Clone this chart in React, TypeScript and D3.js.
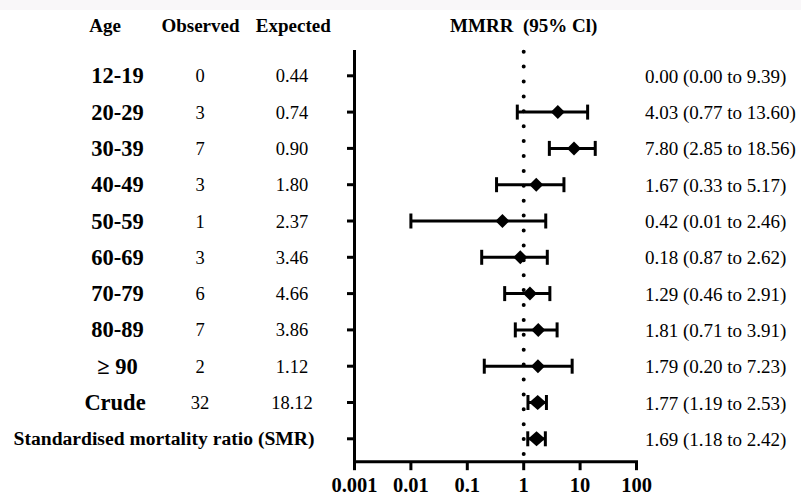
import React from 'react';
import * as d3 from 'd3';

const ageGroups = ['12-19', '20-29', '30-39', '40-49', '50-59', '60-69', '70-79', '80-89', '\u2265 90', 'Crude', 'Standardised mortality ratio (SMR)'];
const observed = ['0', '3', '7', '3', '1', '3', '6', '7', '2', '32', ''];
const expected = ['0.44', '0.74', '0.90', '1.80', '2.37', '3.46', '4.66', '3.86', '1.12', '18.12', ''];
const estimate: (number | null)[] = [null, 4.03, 7.8, 1.67, 0.42, 0.87, 1.29, 1.81, 1.79, 1.77, 1.69];
const lower: (number | null)[] = [null, 0.77, 2.85, 0.33, 0.01, 0.18, 0.46, 0.71, 0.2, 1.19, 1.18];
const upper: (number | null)[] = [null, 13.6, 18.56, 5.17, 2.46, 2.62, 2.91, 3.91, 7.23, 2.53, 2.42];
const ciLabels = [
  '0.00 (0.00 to 9.39)',
  '4.03 (0.77 to 13.60)',
  '7.80 (2.85 to 18.56)',
  '1.67 (0.33 to 5.17)',
  '0.42 (0.01 to 2.46)',
  '0.18 (0.87 to 2.62)',
  '1.29 (0.46 to 2.91)',
  '1.81 (0.71 to 3.91)',
  '1.79 (0.20 to 7.23)',
  '1.77 (1.19 to 2.53)',
  '1.69 (1.18 to 2.42)',
];
const xTicks = [0.001, 0.01, 0.1, 1, 10, 100];
const xTickLabels = ['0.001', '0.01', '0.1', '1', '10', '100'];
const headers = ['Age', 'Observed', 'Expected', 'MMRR  (95% Cl)'];

const W = 801;
const H = 495;
const FONT = '"Liberation Serif", "Times New Roman", serif';

export default function App() {
  const x = d3.scaleLog().domain([0.001, 100]).range([354.5, 636.5]);
  const y = d3.scaleLinear().domain([0, 10]).range([75.8, 438.8]);
  const axisTop = 50;
  const axisBottom = 461.7;
  const headerX = [105, 200.5, 293.3, x(1)];

  const diamond = (cx: number, cy: number, hw: number, hh: number) => {
    const p = d3.path();
    p.moveTo(cx, cy - hh);
    p.lineTo(cx + hw, cy);
    p.lineTo(cx, cy + hh);
    p.lineTo(cx - hw, cy);
    p.closePath();
    return p.toString();
  };

  return (
    <svg
      width={W}
      height={H}
      style={{ position: 'absolute', left: 0, top: 0, background: '#fff' }}
      fontFamily={FONT}
    >
      <rect x={0} y={0} width={W} height={H} fill="#fff" />
      <rect x={0} y={0} width={W} height={10} fill="#f9f7f9" />

      {headers.map((h, i) => (
        <text
          key={h}
          x={headerX[i]}
          y={32}
          textAnchor="middle"
          fontWeight="bold"
          fontSize={19}
          style={{ whiteSpace: 'pre' }}
        >
          {h}
        </text>
      ))}

      {ageGroups.map((g, i) => {
        const isSmr = i === ageGroups.length - 1;
        return (
          <text
            key={g}
            x={isSmr ? 164 : i === 9 ? 115 : 117.5}
            y={y(i) + (isSmr ? 6 : 7.5)}
            textAnchor="middle"
            fontWeight="bold"
            fontSize={isSmr ? 19.6 : 22.5}
          >
            {g}
          </text>
        );
      })}

      {observed.map((o, i) =>
        o ? (
          <text key={'o' + i} x={200} y={y(i) + 6.5} textAnchor="middle" fontSize={18.5}>
            {o}
          </text>
        ) : null
      )}
      {expected.map((e, i) =>
        e ? (
          <text key={'e' + i} x={292} y={y(i) + 6.5} textAnchor="middle" fontSize={18.5}>
            {e}
          </text>
        ) : null
      )}

      {ciLabels.map((c, i) => (
        <text key={'c' + i} x={645} y={y(i) + 7} fontSize={19}>
          {c}
        </text>
      ))}

      {/* reference line at 1 */}
      <line
        x1={x(1)}
        x2={x(1)}
        y1={51.7}
        y2={454}
        stroke="#000"
        strokeWidth={4}
        strokeLinecap="round"
        strokeDasharray="0 14.9"
      />

      {/* left axis */}
      <line x1={354.5} x2={354.5} y1={axisTop} y2={axisBottom + 1.5} stroke="#000" strokeWidth={3} />
      {ageGroups.map((g, i) => (
        <line key={'t' + i} x1={347} x2={354.5} y1={y(i)} y2={y(i)} stroke="#000" strokeWidth={3} />
      ))}

      {/* bottom axis */}
      <line x1={353} x2={x(100) + 1.5} y1={axisBottom} y2={axisBottom} stroke="#000" strokeWidth={3} />
      {xTicks.map((t, i) => (
        <g key={'xt' + i}>
          <line x1={x(t)} x2={x(t)} y1={axisBottom} y2={axisBottom + 8.5} stroke="#000" strokeWidth={3} />
          <text x={x(t)} y={492} textAnchor="middle" fontWeight="bold" fontSize={20.5}>
            {xTickLabels[i]}
          </text>
        </g>
      ))}

      {/* error bars and diamonds */}
      {estimate.map((est, i) => {
        if (est == null || lower[i] == null || upper[i] == null) return null;
        const cy = y(i);
        const x0 = x(lower[i] as number);
        const x1 = x(upper[i] as number);
        const big = i >= 9;
        return (
          <g key={'m' + i}>
            <line x1={x0} x2={x1} y1={cy} y2={cy} stroke="#000" strokeWidth={3} />
            <line x1={x0} x2={x0} y1={cy - 7.5} y2={cy + 7.5} stroke="#000" strokeWidth={3} />
            <line x1={x1} x2={x1} y1={cy - 7.5} y2={cy + 7.5} stroke="#000" strokeWidth={3} />
            <path d={diamond(x(est), cy, big ? 8.5 : 7, big ? 7.5 : 7)} fill="#000" />
          </g>
        );
      })}
    </svg>
  );
}
